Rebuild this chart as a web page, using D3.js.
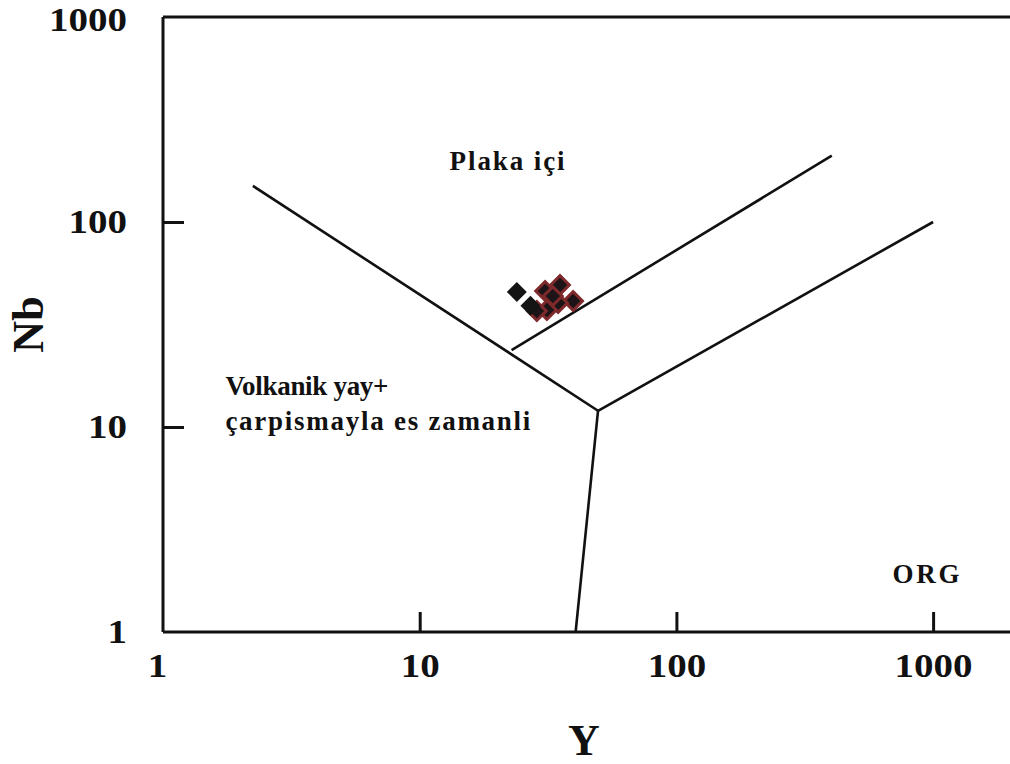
<!DOCTYPE html>
<html>
<head>
<meta charset="utf-8">
<script src="https://cdn.jsdelivr.net/npm/d3@7"></script>
<style>
  html, body { margin: 0; padding: 0; background: #fff; }
  svg { display: block; }
  text { font-family: "Liberation Serif", "Times New Roman", serif; font-weight: bold; fill: #111; }
</style>
</head>
<body>
<svg id="chart" width="1010" height="764"></svg>
<script>
// Nb–Y tectonic discrimination diagram (log–log)

const xTicks = [1, 10, 100, 1000];
const yTicks = [1, 10, 100, 1000];

// Field boundaries as [Y, Nb] vertices
const boundaryWest   = [[2.24, 150], [49.5, 12]];   // VAG+syn-COLG / WPG
const boundaryBottom = [[40.5, 1], [49.5, 12]];     // VAG+syn-COLG / ORG
const boundaryEast   = [[49.5, 12], [1000, 100]];   // WPG / ORG
const boundaryInner  = [[22.8, 23.7], [403, 210.6]];

// Samples
const sampleY  = [35.2, 30.8, 39.6, 34.6, 31.3, 28.6, 33.0];
const sampleNb = [49.3, 46.1, 41.2, 40.3, 37.2, 36.8, 43.5];
const soloY  = [23.9, 27.0];
const soloNb = [45.6, 39.0];

// Field names: position in data units, line width in px
const fieldLabels = [
  { lines: ["Plaka içi"], widths: [115], Y: 21.9, Nb: 179, anchor: "middle" },
  { lines: ["Volkanik yay+", "çarpismayla es zamanli"], widths: [163, 305], Y: 1.75, Nb: 14.3, anchor: "start" },
  { lines: ["ORG"], widths: [67], Y: 938, Nb: 1.73, anchor: "middle" }
];

const svg = d3.select("#chart");

const x = d3.scaleLog().domain([1, 2000]).range([163, 163 + 256.7 * Math.log10(2000)]);
const y = d3.scaleLog().domain([1, 1000]).range([632, 17]);

// Frame
const frame = svg.append("g").attr("stroke", "#111").attr("stroke-width", 3).attr("fill", "none");
frame.append("line").attr("x1", x(1)).attr("x2", x(1)).attr("y1", y(1000)).attr("y2", y(1));
frame.append("line").attr("x1", x(1)).attr("x2", 1010).attr("y1", y(1000)).attr("y2", y(1000));
frame.append("line").attr("x1", x(1)).attr("x2", 1010).attr("y1", y(1)).attr("y2", y(1));

// Tick labels use a slightly widened digit set
const digitWidth = 19.5;
function styleTickText(sel) {
  sel.attr("font-size", 34).attr("font-family", null).attr("fill", null)
    .attr("lengthAdjust", "spacingAndGlyphs")
    .attr("textLength", d => String(d).length * digitWidth);
}

// Axes
const xAxis = d3.axisBottom(x).tickValues(xTicks).tickFormat(d3.format("d"))
  .tickSizeInner(-20).tickSizeOuter(0).tickPadding(21);
const gx = svg.append("g").attr("transform", `translate(0,${y(1)})`).call(xAxis);
gx.select(".domain").remove();
gx.selectAll(".tick line").attr("stroke", "#111").attr("stroke-width", 3)
  .filter(d => d === 1).remove();
gx.selectAll(".tick text").call(styleTickText);
gx.selectAll(".tick").filter(d => d === 1).select("text").attr("dx", -6);

const yAxis = d3.axisLeft(y).tickValues(yTicks).tickFormat(d3.format("d"))
  .tickSizeInner(-21).tickSizeOuter(0).tickPadding(36);
const gy = svg.append("g").attr("transform", `translate(${x(1)},0)`).call(yAxis);
gy.select(".domain").remove();
gy.selectAll(".tick line").attr("stroke", "#111").attr("stroke-width", 3)
  .filter(d => d === 1 || d === 1000).remove();
gy.selectAll(".tick text").call(styleTickText);
gy.selectAll(".tick").filter(d => d === 1000).select("text").attr("y", 3);

// Axis titles
svg.append("text").attr("x", 584).attr("y", 755).attr("text-anchor", "middle")
  .attr("font-size", 44).text("Y");
svg.append("text").attr("transform", `translate(43,${(y(10) + y(100)) / 2}) rotate(-90)`)
  .attr("text-anchor", "middle").attr("font-size", 44).text("Nb");

// Boundaries
const line = d3.line().x(d => x(d[0])).y(d => y(d[1]));
svg.append("g").attr("fill", "none").attr("stroke", "#111").attr("stroke-width", 2.6)
  .selectAll("path")
  .data([boundaryWest, boundaryBottom, boundaryEast, boundaryInner])
  .join("path").attr("d", line);

// Field labels
fieldLabels.forEach(f => {
  f.lines.forEach((s, i) => {
    svg.append("text")
      .attr("x", x(f.Y)).attr("y", y(f.Nb) + i * 35)
      .attr("text-anchor", f.anchor).attr("font-size", 27)
      .attr("lengthAdjust", "spacing").attr("textLength", f.widths[i])
      .text(s);
  });
});

// Sample markers
const diamondPath = d3.symbol().type(d3.symbolSquare).size(175)();
svg.append("g").selectAll("path")
  .data(d3.zip(sampleY, sampleNb))
  .join("path")
  .attr("d", diamondPath)
  .attr("transform", d => `translate(${x(d[0])},${y(d[1])}) rotate(45)`)
  .attr("fill", "#1c1416").attr("stroke", "#7e2a2c").attr("stroke-width", 3);
svg.append("g").selectAll("path")
  .data(d3.zip(soloY, soloNb))
  .join("path")
  .attr("d", d3.symbol().type(d3.symbolSquare).size(200)())
  .attr("transform", d => `translate(${x(d[0])},${y(d[1])}) rotate(45)`)
  .attr("fill", "#141414");
</script>
</body>
</html>
